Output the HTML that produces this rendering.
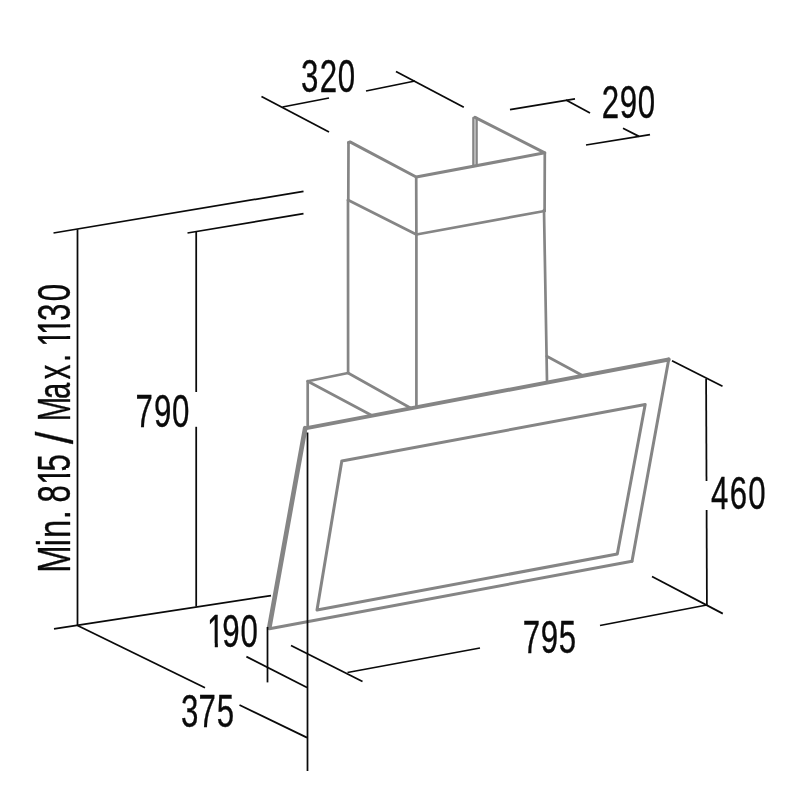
<!DOCTYPE html>
<html><head><meta charset="utf-8"><title>Dimensions</title>
<style>
html,body{margin:0;padding:0;background:#fff;}
body{width:800px;height:800px;overflow:hidden;}
svg{display:block;}
text{font-family:"Liberation Sans",sans-serif;white-space:pre;}
</style></head>
<body>
<svg width="800" height="800" viewBox="0 0 800 800">
<rect width="800" height="800" fill="#ffffff"/>
<defs><clipPath id="c0"><path d="M-20 -60H87.3V20H-20ZM0.64 -4.20H9.92V2.00H0.64ZM14.39 -4.20H23.31V2.00H14.39Z" clip-rule="evenodd"/></clipPath><clipPath id="c1"><path d="M-20 -60H86.9V20H-20ZM29.26 -4.00H38.53V2.00H29.26ZM43.00 -4.00H51.92V2.00H43.00Z" clip-rule="evenodd"/></clipPath><clipPath id="c2"><path d="M-20 -60H105.4V20H-20ZM0.79 -4.00H10.07V2.00H0.79ZM14.53 -4.00H27.22V2.00H14.53ZM31.69 -4.00H40.60V2.00H31.69Z" clip-rule="evenodd"/></clipPath></defs>
<g stroke-linecap="round">
<path d="M348.5 142.6 L350 141.9 L416.2 177 L544.8 152.8 L475 117.3" stroke="#858585" stroke-width="3.0" fill="none" stroke-linejoin="round"/>
<path d="M348.3 199.5 L348.5 142.6" stroke="#858585" stroke-width="2.7" fill="none" />
<path d="M473.4 118 L473.4 166" stroke="#858585" stroke-width="2.4" fill="none" />
<path d="M476.6 118 L476.6 165.5" stroke="#858585" stroke-width="2.4" fill="none" />
<path d="M416.2 177 L416.4 234.5" stroke="#858585" stroke-width="2.7" fill="none" />
<path d="M544.8 152.8 L544.6 211" stroke="#858585" stroke-width="2.7" fill="none" />
<path d="M348 200 L416.4 234.5 L544.6 211" stroke="#858585" stroke-width="2.7" fill="none" stroke-linejoin="round"/>
<path d="M348 200 L348.1 373" stroke="#858585" stroke-width="2.7" fill="none" />
<path d="M416.4 234.5 L416.4 406" stroke="#858585" stroke-width="2.7" fill="none" />
<path d="M544 210 L547 380.5" stroke="#858585" stroke-width="2.7" fill="none" />
<path d="M348.1 373 L307.7 381.2 L371 415" stroke="#858585" stroke-width="2.7" fill="none" stroke-linejoin="round"/>
<path d="M348.1 373 L410.5 408" stroke="#858585" stroke-width="2.7" fill="none" />
<path d="M307.7 381.2 L307.7 427" stroke="#858585" stroke-width="2.7" fill="none" />
<path d="M546.8 356.2 L582 375.2" stroke="#858585" stroke-width="2.7" fill="none" />
<path d="M305.2 428.4 L668.7 359.5" stroke="#858585" stroke-width="3.9" fill="none" />
<path d="M269.3 627.6 L305.2 428.2" stroke="#858585" stroke-width="4.7" fill="none" />
<path d="M668.8 359 L632 561.2" stroke="#858585" stroke-width="3.0" fill="none" />
<path d="M632 561.2 L269.5 628.8" stroke="#858585" stroke-width="2.9" fill="none" />
<path d="M341.8 461 L645.2 404.5 L617.3 554 L317 610 L341.8 461" stroke="#858585" stroke-width="3.0" fill="none" stroke-linejoin="round"/>
</g>
<g stroke-linecap="butt">
<path d="M261.5 96.5 L329 132" stroke="#0a0a0a" stroke-width="1.75" fill="none" />
<path d="M282.5 107 L329 98" stroke="#0a0a0a" stroke-width="1.75" fill="none" />
<path d="M366 91 L415 81" stroke="#0a0a0a" stroke-width="1.75" fill="none" />
<path d="M396 71.5 L463.8 107.3" stroke="#0a0a0a" stroke-width="1.75" fill="none" />
<path d="M510 109.6 L575 98.9" stroke="#0a0a0a" stroke-width="1.75" fill="none" />
<path d="M566 100 L590 113" stroke="#0a0a0a" stroke-width="1.75" fill="none" />
<path d="M586 145 L650 134.6" stroke="#0a0a0a" stroke-width="1.75" fill="none" />
<path d="M623 128.3 L639 136.4" stroke="#0a0a0a" stroke-width="1.75" fill="none" />
<path d="M53.5 233 L303.5 191.3" stroke="#0a0a0a" stroke-width="1.75" fill="none" />
<path d="M187.5 233 L303.5 213.7" stroke="#0a0a0a" stroke-width="1.75" fill="none" />
<path d="M77.5 229.3 L77.5 625.5" stroke="#0a0a0a" stroke-width="1.75" fill="none" />
<path d="M196.2 231.8 L196.2 392" stroke="#0a0a0a" stroke-width="1.75" fill="none" />
<path d="M196.2 426.8 L196.2 606.5" stroke="#0a0a0a" stroke-width="1.75" fill="none" />
<path d="M54 628.9 L271 595.6" stroke="#0a0a0a" stroke-width="1.75" fill="none" />
<path d="M77.5 625.5 L205 687.8" stroke="#0a0a0a" stroke-width="1.75" fill="none" />
<path d="M267.5 627 L267.5 682.4" stroke="#0a0a0a" stroke-width="1.75" fill="none" />
<path d="M246.4 656.6 L307 687.5" stroke="#0a0a0a" stroke-width="1.75" fill="none" />
<path d="M239.5 705 L307 737.6" stroke="#0a0a0a" stroke-width="1.75" fill="none" />
<path d="M307.5 432.5 L307.5 771" stroke="#0a0a0a" stroke-width="1.75" fill="none" />
<path d="M291 645.5 L362.5 681.5" stroke="#0a0a0a" stroke-width="1.75" fill="none" />
<path d="M347.5 672.5 L480 648" stroke="#0a0a0a" stroke-width="1.75" fill="none" />
<path d="M600 625.5 L706.8 605" stroke="#0a0a0a" stroke-width="1.75" fill="none" />
<path d="M652 576.5 L722.8 613.6" stroke="#0a0a0a" stroke-width="1.75" fill="none" />
<path d="M672 360.75 L722.5 386.25" stroke="#0a0a0a" stroke-width="1.75" fill="none" />
<path d="M706.1 378.75 L706.5 481" stroke="#0a0a0a" stroke-width="1.75" fill="none" />
<path d="M706.6 510 L706.9 605" stroke="#0a0a0a" stroke-width="1.75" fill="none" />
</g>
<g opacity="0.999">
<text transform="translate(300 92.4) scale(0.685 1)" x="1.32 28.93 55.20" y="0" font-size="45.6" fill="#0a0a0a" stroke="#0a0a0a" stroke-width="0.3" vector-effect="non-scaling-stroke" stroke-linejoin="round">320</text>
<text transform="translate(601 118.3) scale(0.685 1)" x="1.19 27.48 53.74" y="0" font-size="45.6" fill="#0a0a0a" stroke="#0a0a0a" stroke-width="0.3" vector-effect="non-scaling-stroke" stroke-linejoin="round">290</text>
<text transform="translate(134.8 427.2) scale(0.685 1)" x="1.17 27.99 54.18" y="0" font-size="45.6" fill="#0a0a0a" stroke="#0a0a0a" stroke-width="0.3" vector-effect="non-scaling-stroke" stroke-linejoin="round">790</text>
<text transform="translate(709.5 509.3) scale(0.685 1)" x="2.06 29.72 56.44" y="0" font-size="45.6" fill="#0a0a0a" stroke="#0a0a0a" stroke-width="0.3" vector-effect="non-scaling-stroke" stroke-linejoin="round">460</text>
<text transform="translate(522 652.6) scale(0.685 1)" x="1.17 27.48 53.79" y="0" font-size="45.6" fill="#0a0a0a" stroke="#0a0a0a" stroke-width="0.3" vector-effect="non-scaling-stroke" stroke-linejoin="round">795</text>
<text transform="translate(208 647.2) scale(0.685 1)" x="-1.33 20.91 47.32" y="0" font-size="45.6" fill="#0a0a0a" stroke="#0a0a0a" stroke-width="0.3" vector-effect="non-scaling-stroke" stroke-linejoin="round" clip-path="url(#c0)">190</text>
<text transform="translate(180 727.3) scale(0.685 1)" x="1.32 27.08 53.79" y="0" font-size="45.6" fill="#0a0a0a" stroke="#0a0a0a" stroke-width="0.3" vector-effect="non-scaling-stroke" stroke-linejoin="round">375</text>
<text transform="translate(70 572.4) rotate(-90) scale(0.72 1)" x="-0.66 36.47 47.91 73.73" y="0" font-size="45.6" fill="#0a0a0a" stroke="#0a0a0a" stroke-width="0.3" vector-effect="non-scaling-stroke" stroke-linejoin="round">Min.</text>
<text transform="translate(70 503.5) rotate(-90) scale(0.685 1)" x="1.55 27.28 46.85" y="0" font-size="45.6" fill="#0a0a0a" stroke="#0a0a0a" stroke-width="0.3" vector-effect="non-scaling-stroke" stroke-linejoin="round" clip-path="url(#c1)">815</text>
<text transform="translate(73.2 446) rotate(-90) scale(0.865 1)" x="2.41" y="0" font-size="51.3" fill="#0a0a0a" stroke="#0a0a0a" stroke-width="0.3" vector-effect="non-scaling-stroke" stroke-linejoin="round">/</text>
<text transform="translate(70 422) rotate(-90) scale(0.64 1)" x="1.32 36.00 66.71 93.67" y="0" font-size="45.6" fill="#0a0a0a" stroke="#0a0a0a" stroke-width="0.3" vector-effect="non-scaling-stroke" stroke-linejoin="round">Max.</text>
<text transform="translate(70 346) rotate(-90) scale(0.685 1)" x="-1.18 15.97 36.36 65.42" y="0" font-size="45.6" fill="#0a0a0a" stroke="#0a0a0a" stroke-width="0.3" vector-effect="non-scaling-stroke" stroke-linejoin="round" clip-path="url(#c2)">1130</text>
</g>
</svg>
</body></html>
